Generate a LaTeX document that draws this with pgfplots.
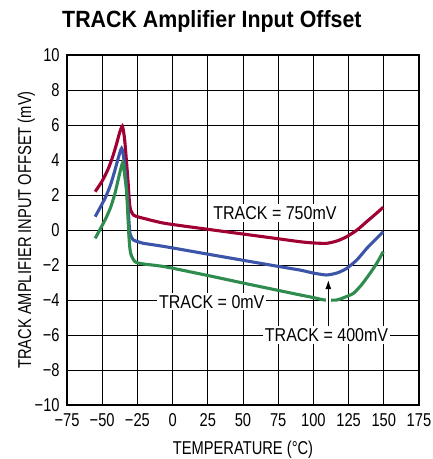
\documentclass[border=0pt]{standalone}
\usepackage{pgfplots}
\pgfplotsset{compat=1.18}
\usetikzlibrary{arrows.meta}
\usepackage{fontspec}
\setmainfont[FakeStretch=0.79]{Liberation Sans}
\newfontfamily\titlefont[FakeStretch=0.91]{Liberation Sans}
\newfontfamily\notefont[FakeStretch=0.86]{Liberation Sans}
\definecolor{cRed}{HTML}{A00032}
\definecolor{cBlue}{HTML}{3D55A8}
\definecolor{cGreen}{HTML}{2F8C4E}
\begin{document}
\fontsize{18.6}{21}\selectfont
\begin{tikzpicture}
\path[use as bounding box] (-67pt,-54pt) rectangle (366pt,405pt);
\begin{axis}[
  scale only axis,
  width=352pt, height=350pt,
  xmin=-75, xmax=175, ymin=-10, ymax=10,
  xtick={-75,-50,...,175},
  ytick={-10,-8,...,10},
  xticklabels={−75,−50,−25,0,25,50,75,100,125,150,175},
  yticklabels={−10,−8,−6,−4,−2,0,2,4,6,8,10},
  grid=major,
  major grid style={black, line width=0.8pt},
  major tick length=0pt,
  axis line style={black, line width=1.2pt},
  ticklabel style={font=\fontsize{18.6}{21}\selectfont},
  xticklabel style={yshift=-2pt},
  yticklabel style={xshift=-1pt},
  label style={font=\fontsize{18.6}{21}\selectfont},
  xlabel={TEMPERATURE (°C)},
  ylabel={TRACK AMPLIFIER INPUT OFFSET (mV)},
  xlabel style={yshift=-2pt},
  ylabel shift=-13pt,
  clip=false,
]
\addplot[cRed, line width=3.1pt, smooth, tension=0.4] coordinates {
(-55,2.19) (-50,2.8) (-45.6,3.52) (-42.5,4.2) (-39.7,4.95) (-37.5,5.6) (-35.7,5.94)
(-34.6,5.5) (-33.8,4.95) (-31.9,3.05) (-30.3,1.33) (-27.9,0.86) (-24,0.74) (-20.8,0.67)
(-5.4,0.38) (25,0.04) (50,-0.23) (75,-0.5) (90.5,-0.67) (100,-0.74) (109.4,-0.76)
(117,-0.62) (123.7,-0.38) (131,0.0) (137.9,0.48) (144,0.9) (149.6,1.3)};
\addplot[cBlue, line width=3.1pt, smooth, tension=0.4] coordinates {
(-55,0.76) (-48,1.81) (-44,2.6) (-40.9,3.43) (-38.3,4.2) (-36.2,4.67)
(-34.8,4.2) (-33.3,3.05) (-31.5,1.14) (-30.3,-0.19) (-27.9,-0.57) (-24,-0.68) (-20.8,-0.76)
(-5.4,-0.95) (25,-1.38) (50,-1.73) (75,-2.08) (90.5,-2.29) (100,-2.46) (109.4,-2.57)
(117,-2.45) (123.7,-2.19) (131,-1.7) (137.9,-1.05) (144,-0.55) (149.6,-0.1)};
\addplot[cGreen, line width=3.1pt, smooth, tension=0.4] coordinates {
(-55,-0.48) (-48,0.57) (-44,1.3) (-40.9,2.1) (-38,3.1) (-35.4,3.85)
(-34,3.1) (-32.6,2.1) (-31,-0.38) (-29.8,-1.33) (-26.7,-1.81) (-20.8,-1.94)
(-5.4,-2.1) (25,-2.6) (50,-3.03) (75,-3.45) (90.5,-3.71) (100,-3.86) (108,-4.0)
(116.5,-4.0) (122,-3.85) (128.4,-3.62) (134,-3.15) (140.2,-2.48) (145,-1.9) (149.6,-1.24)};
\draw[white, line width=5pt] (axis cs:110.6,-4.6) -- (axis cs:110.6,-3.4);
\draw[black, line width=1pt, -{Latex[length=9pt,width=6pt]}] (axis cs:110.6,-5.6) -- (axis cs:110.6,-2.86);
\node[fill=white, inner sep=2pt, font=\notefont] at (axis cs:72.7,0.97) {TRACK = 750mV};
\node[fill=white, inner sep=2pt, font=\notefont] at (axis cs:27.8,-4.1) {TRACK = 0mV};
\node[fill=white, inner sep=2pt, font=\notefont] at (axis cs:109.3,-6.0) {TRACK = 400mV};
\end{axis}
\node[anchor=west, inner sep=0pt, font=\titlefont\bfseries\fontsize{23.5}{26}\selectfont] at (-5pt,384pt) {TRACK Amplifier Input Offset};
\end{tikzpicture}
\end{document}
